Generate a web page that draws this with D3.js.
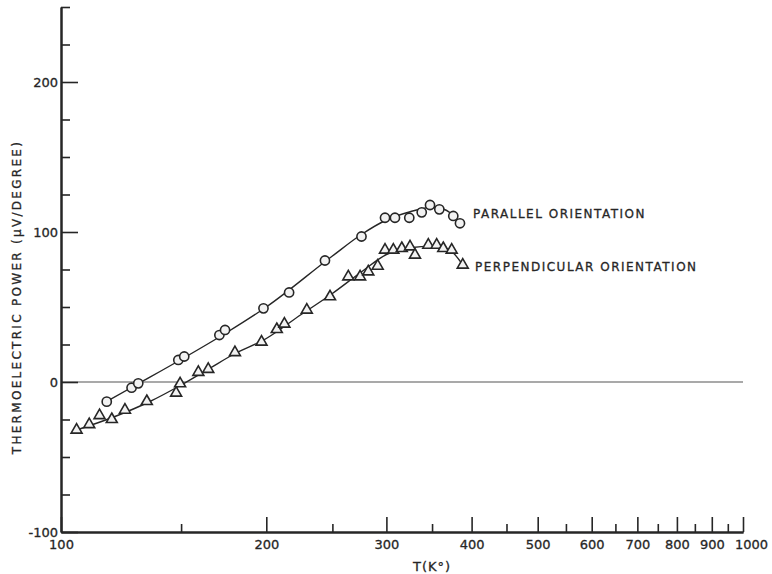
<!DOCTYPE html>
<html><head><meta charset="utf-8">
<script src="https://cdn.jsdelivr.net/npm/d3@7"></script>
<style>body{margin:0;background:#fff}svg{display:block}</style>
</head><body>
<svg id="c" width="772" height="574"></svg>
<script>
// Parallel orientation (circles): temperature K, thermoelectric power µV/deg
const parT = [116.7,126.9,129.8,148.6,151.6,170.7,174.0,198.1,216.0,243.8,275.8,298.6,308.8,324.1,338.0,347.6,358.7,376.0,384.6];
const parV = [-13.1,-3.8,-0.9,14.7,17.0,31.3,34.7,49.1,59.7,81.0,97.0,109.5,109.5,109.5,113.1,118.0,115.1,110.7,105.8];
// Perpendicular orientation (triangles)
const perT = [105.4,110.0,113.9,118.7,124.1,133.6,147.5,149.5,159.0,164.4,179.9,196.8,207.2,212.6,229.3,248.0,263.8,274.5,282.2,291.3,298.6,307.1,316.0,324.9,330.4,345.6,355.5,363.5,374.0,388.2];
const perV = [-32.0,-28.3,-22.3,-24.9,-18.7,-12.9,-7.3,-1.1,6.5,8.5,19.7,26.7,35.1,38.7,48.0,56.9,70.2,70.2,73.5,77.3,88.0,88.0,89.1,90.2,84.7,91.3,91.3,89.1,88.0,78.0];
// Hand-drawn smooth curves through the data
const parCurveT = [116.7,130,150,175,200,250,275,300,325,350,365,378,385];
const parCurveV = [-13,-1,15,33,50,84,98,108,113.5,116.5,115,110,106];
const perCurveT = [105.4,120,135,150,165,180,200,225,250,275,300,325,350,370,388.2];
const perCurveV = [-32,-23,-13,-2,9,19,29,45,59,73,85,89.5,90.5,88.5,78];
const xMajor = [100,200,300,400,500,600,700,800,900,1000];
const xMinor = [150,250,350,450,550,650,750,850,950];
const yMajor = [-100,0,100,200];
const yMinor = [-75,-50,-25,25,50,75,125,150,175,225,250];

const svg = d3.select('#c');
const ink = '#262626';
const font = 'DejaVu Sans, sans-serif';
const x = d3.scaleLog().domain([100,1000]).range([61,743]);
const y = d3.scaleLinear().domain([-100,250]).range([532,7]);
const fmt = d => String(d);

// zero line
svg.append('line').attr('x1',x(100)).attr('x2',x(1000)).attr('y1',y(0)).attr('y2',y(0))
  .attr('stroke','#555').attr('stroke-width',1.2);

// Y axis
const gy = svg.append('g').attr('transform',`translate(${x(100)},0)`)
  .call(d3.axisLeft(y).tickValues(yMajor).tickFormat(fmt).tickSizeInner(-17).tickSizeOuter(0).tickPadding(3));
svg.append('g').attr('transform',`translate(${x(100)},0)`)
  .call(d3.axisLeft(y).tickValues(yMinor).tickFormat('').tickSizeInner(-9).tickSizeOuter(0));
// X axis
const gx = svg.append('g').attr('transform',`translate(0,${y(-100)})`)
  .call(d3.axisBottom(x).tickValues(xMajor).tickFormat(fmt).tickSizeInner(-15).tickSizeOuter(0).tickPadding(8));
svg.append('g').attr('transform',`translate(0,${y(-100)})`)
  .call(d3.axisBottom(x).tickValues(xMinor).tickFormat('').tickSizeInner(-8).tickSizeOuter(0));
svg.selectAll('.domain').attr('stroke',ink).attr('stroke-width',2);
svg.selectAll('.tick line').attr('stroke',ink).attr('stroke-width',1.6);
svg.selectAll('.tick text').attr('font-family',font).attr('font-size',13).attr('fill',ink)
  .attr('stroke',ink).attr('stroke-width',0.3);
gx.selectAll('.tick text').attr('dy','0.71em').attr('dx',d=>d===1000?8:0);

// curves
const line = d3.line().x(d=>x(d[0])).y(d=>y(d[1])).curve(d3.curveMonotoneX);
svg.append('path').datum(parCurveT.map((t,i)=>[t,parCurveV[i]])).attr('d',line)
  .attr('fill','none').attr('stroke',ink).attr('stroke-width',1.4);
svg.append('path').datum(perCurveT.map((t,i)=>[t,perCurveV[i]])).attr('d',line)
  .attr('fill','none').attr('stroke',ink).attr('stroke-width',1.4);

// markers
svg.append('g').selectAll('circle').data(parT.map((t,i)=>[t,parV[i]])).join('circle')
  .attr('cx',d=>x(d[0])).attr('cy',d=>y(d[1])).attr('r',4.6)
  .attr('fill','#f2f2f2').attr('stroke',ink).attr('stroke-width',1.6);
const tri = d3.symbol().type(d3.symbolTriangle).size(52);
svg.append('g').selectAll('path').data(perT.map((t,i)=>[t,perV[i]])).join('path')
  .attr('d',tri).attr('transform',d=>`translate(${x(d[0])},${y(d[1])})`)
  .attr('fill','#f2f2f2').attr('stroke',ink).attr('stroke-width',1.6);

// labels
const lab = (tx,ty,s,opts={}) => svg.append('text').attr('x',tx).attr('y',ty).text(s)
  .attr('font-family',font).attr('font-size',opts.size||12)
  .attr('letter-spacing',opts.ls||1.5).attr('fill',ink).attr('stroke',ink).attr('stroke-width',0.3)
  .attr('dominant-baseline','middle')
  .attr('text-anchor',opts.anchor||'start').attr('transform',opts.rot?`rotate(-90,${tx},${ty})`:null);
lab(473,214,'PARALLEL ORIENTATION');
lab(475,267,'PERPENDICULAR ORIENTATION');
lab(432,567,'T(K°)',{anchor:'middle',size:13,ls:1});
lab(17,297,'THERMOELECTRIC POWER (μV/DEGREE)',{anchor:'middle',size:12,ls:2.3,rot:true});
</script>
</body></html>
